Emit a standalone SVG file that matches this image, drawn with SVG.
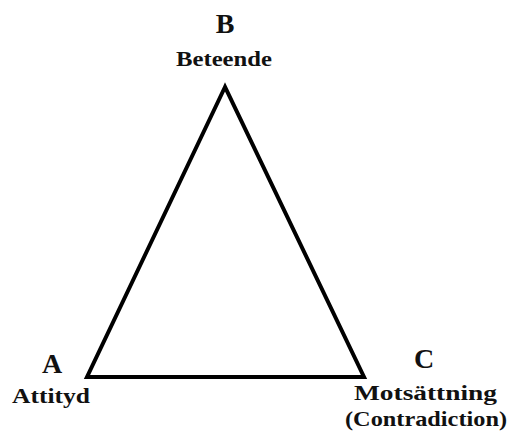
<svg xmlns="http://www.w3.org/2000/svg" width="510" height="434" viewBox="0 0 510 434">
<style>
.t{font-family:"Liberation Serif","Times New Roman",serif;font-weight:bold;fill:#111;}
.big{font-size:28px;}
.sm{font-size:22px;}
</style>
<rect width="510" height="434" fill="#fff"/>
<g id="connectors">
<polygon points="225,87 87,377 364,377" fill="none" stroke="#000" stroke-width="4" stroke-linejoin="miter"/>
</g>
<g id="nodeB">
<text class="t big" x="225" y="33" text-anchor="middle">B</text>
<text class="t sm" x="176" y="66" textLength="96" lengthAdjust="spacingAndGlyphs">Beteende</text>
</g>
<g id="nodeA">
<text class="t big" x="52" y="373" text-anchor="middle">A</text>
<text class="t sm" x="12" y="403" textLength="78" lengthAdjust="spacingAndGlyphs">Attityd</text>
</g>
<g id="nodeC">
<text class="t big" x="424" y="368" text-anchor="middle">C</text>
<text class="t sm" x="354" y="400" textLength="143" lengthAdjust="spacingAndGlyphs">Motsättning</text>
<text class="t sm" x="345" y="426" textLength="162" lengthAdjust="spacingAndGlyphs">(Contradiction)</text>
</g>
</svg>
